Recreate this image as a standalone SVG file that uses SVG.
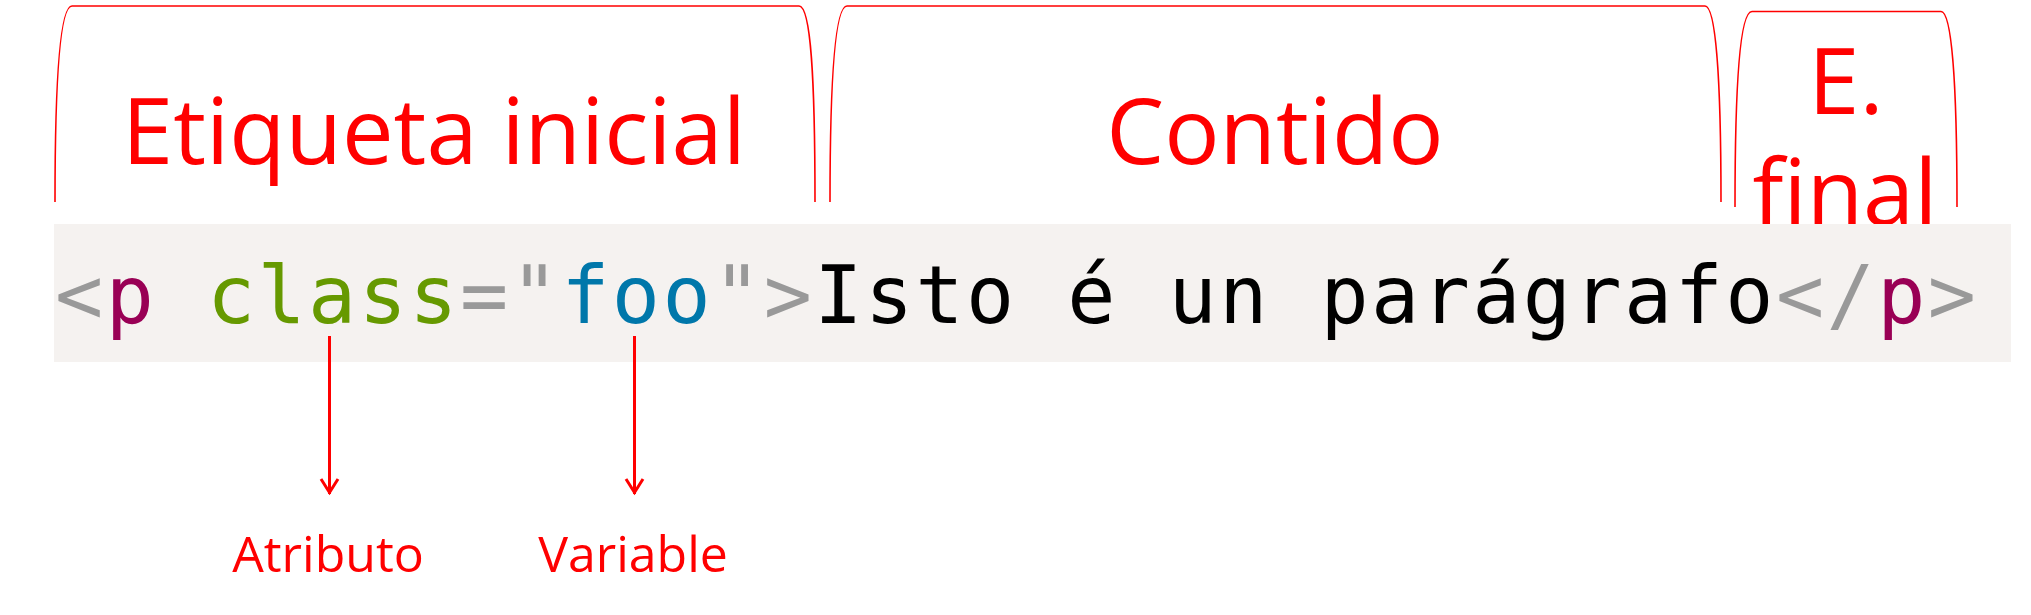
<svg xmlns="http://www.w3.org/2000/svg" width="2031" height="615" viewBox="0 0 2031 615">
  <style>
    .brace { fill: none; stroke: #ff0000; stroke-width: 1.6; }
    .big { font-family: "Open Sans", "Noto Sans", sans-serif; font-size: 92px; fill: #ff0000; text-anchor: middle; }
    .small { font-family: "Open Sans", "Noto Sans", sans-serif; font-size: 50px; fill: #ff0000; text-anchor: middle; }
    .code { font-family: "DejaVu Sans Mono", monospace; font-size: 80px; letter-spacing: 2.45px; fill: #000000; }
    .punc { fill: #999999; }
    .tag { fill: #990055; }
    .attr { fill: #669900; }
    .val { fill: #0077aa; }
    .conn { stroke: #ff0000; stroke-width: 3; fill: none; }
  </style>
  <defs>
    <marker id="ah" viewBox="-20 -12 24 24" refX="0" refY="0" markerWidth="24" markerHeight="24" markerUnits="userSpaceOnUse" orient="auto">
      <path d="M-15,-8.5 L-1.5,0 L-15,8.5" fill="none" stroke="#ff0000" stroke-width="3"/>
    </marker>
  </defs>
  <rect width="2031" height="615" fill="#ffffff"/>

  <g id="start-tag">
    <path class="brace" d="M55,202 C55,80 60,6 72,6 L799,6 C811,6 815,80 815,202"/>
    <text class="big" x="434" y="164">Etiqueta inicial</text>
  </g>

  <g id="content">
    <path class="brace" d="M830,202 C830,80 835,6 847,6 L1705,6 C1716,6 1721,80 1721,202"/>
    <text class="big" x="1275" y="164">Contido</text>
  </g>

  <g id="end-tag">
    <path class="brace" d="M1735,207 C1735,85 1740,11.5 1752,11.5 L1941,11.5 C1952,11.5 1957,85 1957,207"/>
    <text class="big" x="1846" y="114">E.</text>
    <text class="big" x="1845" y="225">final</text>
  </g>

  <g id="code">
    <rect x="54" y="224" width="1957" height="138" fill="#f5f2f0"/>
    <text class="code" x="55" y="323" xml:space="preserve"><tspan class="punc">&lt;</tspan><tspan class="tag">p</tspan> <tspan class="attr">class</tspan><tspan class="punc">="</tspan><tspan class="val">foo</tspan><tspan class="punc">"&gt;</tspan>Isto é un parágrafo<tspan class="punc">&lt;/</tspan><tspan class="tag">p</tspan><tspan class="punc">&gt;</tspan></text>
  </g>

  <g id="connectors">
    <line class="conn" x1="329.5" y1="336" x2="329.5" y2="494" marker-end="url(#ah)"/>
    <line class="conn" x1="634.5" y1="336" x2="634.5" y2="494" marker-end="url(#ah)"/>
  </g>

  <g id="attribute-label">
    <text class="small" x="328" y="572">Atributo</text>
  </g>
  <g id="value-label">
    <text class="small" x="633" y="572">Variable</text>
  </g>
</svg>
